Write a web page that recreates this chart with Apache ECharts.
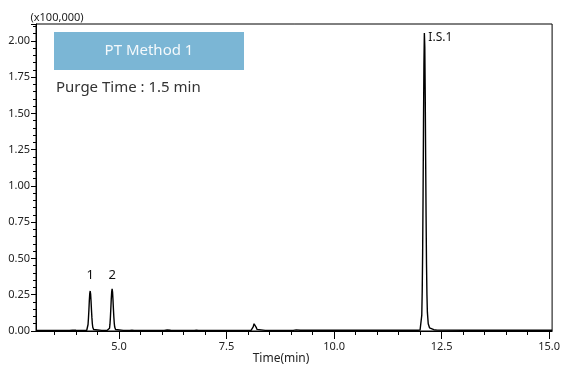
<!DOCTYPE html>
<html>
<head>
<meta charset="utf-8">
<script src="https://cdn.jsdelivr.net/npm/echarts@6/dist/echarts.min.js"></script>
<style>
html,body{margin:0;padding:0;background:#fff;}
#c{width:563px;height:369px;}
</style>
</head>
<body>
<div id="c"></div>
<script>
// Retention time (min) and signal (x100,000)
const retentionTimes = [
  3.07, 3.5, 3.85, 3.92, 3.96, 4.0, 4.1, 4.2,
  4.25, 4.27, 4.28, 4.29, 4.30, 4.31, 4.32, 4.33, 4.34, 4.35, 4.36, 4.37, 4.38, 4.39, 4.41, 4.45,
  4.6, 4.72,
  4.76, 4.78, 4.79, 4.80, 4.81, 4.82, 4.83, 4.84, 4.85, 4.86, 4.87, 4.88, 4.89, 4.90, 4.92, 4.96,
  5.1, 5.25, 5.3, 5.35, 5.6, 6.05, 6.12, 6.16, 6.2, 6.3, 6.75, 6.8, 6.85, 7.5, 8.0,
  8.07, 8.10, 8.12, 8.14, 8.155, 8.17, 8.19, 8.21, 8.25,
  8.4, 9.05, 9.12, 9.16, 9.22, 9.4, 10.5, 11.5, 11.95,
  12.00, 12.02, 12.04, 12.05, 12.06, 12.07, 12.08, 12.09, 12.10, 12.11, 12.12, 12.13, 12.14, 12.15, 12.16, 12.17, 12.19, 12.22, 12.26, 12.32, 12.4,
  13.0, 14.0, 15.07
];
const intensities = [
  0.004, 0.004, 0.004, 0.006, 0.007, 0.005, 0.004, 0.004,
  0.005, 0.018, 0.045, 0.090, 0.145, 0.210, 0.258, 0.276, 0.255, 0.205, 0.145, 0.092, 0.050, 0.026, 0.010, 0.005,
  0.004, 0.004,
  0.005, 0.019, 0.047, 0.094, 0.155, 0.220, 0.270, 0.290, 0.268, 0.215, 0.152, 0.097, 0.053, 0.027, 0.010, 0.005,
  0.004, 0.004, 0.006, 0.004, 0.004, 0.004, 0.007, 0.008, 0.005, 0.004, 0.004, 0.006, 0.004, 0.004, 0.004,
  0.005, 0.012, 0.028, 0.050, 0.058, 0.048, 0.025, 0.011, 0.005,
  0.004, 0.004, 0.008, 0.009, 0.005, 0.005, 0.005, 0.005, 0.005,
  0.007, 0.020, 0.110, 0.270, 0.540, 0.940, 1.430, 1.840, 2.055, 1.960, 1.630, 1.190, 0.790, 0.460, 0.250, 0.130, 0.050, 0.022, 0.013, 0.009, 0.006,
  0.005, 0.005, 0.005
];
const peakNames = ['1', '2', 'I.S.1'];
const peakTimes = [4.33, 4.84, 12.10];
const peakLabelLevels = [0.386, 0.386, 2.024];
const xTickLabels = [5.0, 7.5, 10.0, 12.5, 15.0];
const xMinorTicks = [3.5,4.0,4.5,5.0,5.5,6.0,6.5,7.0,7.5,8.0,8.5,9.0,9.5,10.0,10.5,11.0,11.5,12.0,12.5,13.0,13.5,14.0,14.5,15.0];
const yMinorTicks = [0.05,0.10,0.15,0.20,0.30,0.35,0.40,0.45,0.55,0.60,0.65,0.70,0.80,0.85,0.90,0.95,1.05,1.10,1.15,1.20,1.30,1.35,1.40,1.45,1.55,1.60,1.65,1.70,1.80,1.85,1.90,1.95,2.05,2.10];

const points = retentionTimes.map((t, i) => [t, intensities[i]]);
const font = 'Noto Sans';
const chart = echarts.init(document.getElementById('c'), null, {renderer: 'canvas'});

const markData = peakNames.map((n, i) => ({
  name: n,
  coord: [peakTimes[i], peakLabelLevels[i]],
  label: i === 2 ? {align: 'left', offset: [4, 0], fontSize: 12} : {align: 'center'}
}));

chart.setOption({
  animation: false,
  grid: {left: 36, right: 8, top: 24, bottom: 38, show: true, borderColor: '#000', borderWidth: 1, containLabel: false},
  xAxis: [{
    type: 'value', min: 3.07, max: 15.07, position: 'bottom',
    axisLine: {lineStyle: {color: '#000', width: 1}},
    axisTick: {customValues: xTickLabels, length: 8, lineStyle: {color: '#000'}},
    axisLabel: {customValues: xTickLabels, formatter: v => v.toFixed(1), color: '#222', fontFamily: font, fontSize: 11, margin: 10},
    splitLine: {show: false}
  }, {
    type: 'value', min: 3.07, max: 15.07, position: 'bottom',
    axisLine: {show: false},
    axisTick: {customValues: xMinorTicks, length: 4, lineStyle: {color: '#000'}},
    axisLabel: {show: false},
    splitLine: {show: false}
  }],
  yAxis: [{
    type: 'value', min: 0, max: 2.117, interval: 0.25,
    axisLine: {show: true, lineStyle: {color: '#000', width: 1}},
    axisTick: {show: true, length: 5, lineStyle: {color: '#000'}},
    axisLabel: {formatter: v => (Math.abs(v * 4 - Math.round(v * 4)) < 1e-6 ? v.toFixed(2) : ''), color: '#222', fontFamily: font, fontSize: 11, margin: 6},
    splitLine: {show: false}
  }, {
    type: 'value', min: 0, max: 2.117, position: 'left',
    axisLine: {show: false},
    axisTick: {show: true, customValues: yMinorTicks, length: 3, lineStyle: {color: '#000'}},
    axisLabel: {show: false},
    splitLine: {show: false}
  }],
  series: [{
    type: 'line', data: points, xAxisIndex: 0, yAxisIndex: 0,
    showSymbol: false, symbol: 'none',
    lineStyle: {color: '#000', width: 1.4},
    markPoint: {
      symbol: 'circle', symbolSize: 0,
      label: {show: true, position: 'inside', formatter: p => p.name, color: '#111', fontFamily: font, fontSize: 13},
      data: markData
    }
  }],
  graphic: [
    {type: 'rect', shape: {x: 54, y: 32, width: 190, height: 38}, style: {fill: '#7bb6d5'}},
    {type: 'text', style: {x: 149, y: 51, text: 'PT Method 1', fill: '#f4f9fc', font: '15px "Noto Sans"', align: 'center', verticalAlign: 'middle'}},
    {type: 'text', style: {x: 56, y: 88, text: 'Purge Time : 1.5 min', fill: '#333', font: '15px "Noto Sans"', align: 'left', verticalAlign: 'middle'}},
    {type: 'text', style: {x: 57, y: 18, text: '(x100,000)', fill: '#222', font: '11px "Noto Sans"', align: 'center', verticalAlign: 'middle'}},
    {type: 'text', style: {x: 281, y: 359, text: 'Time(min)', fill: '#222', font: '12px "Noto Sans"', align: 'center', verticalAlign: 'middle'}}
  ]
});
</script>
</body>
</html>
